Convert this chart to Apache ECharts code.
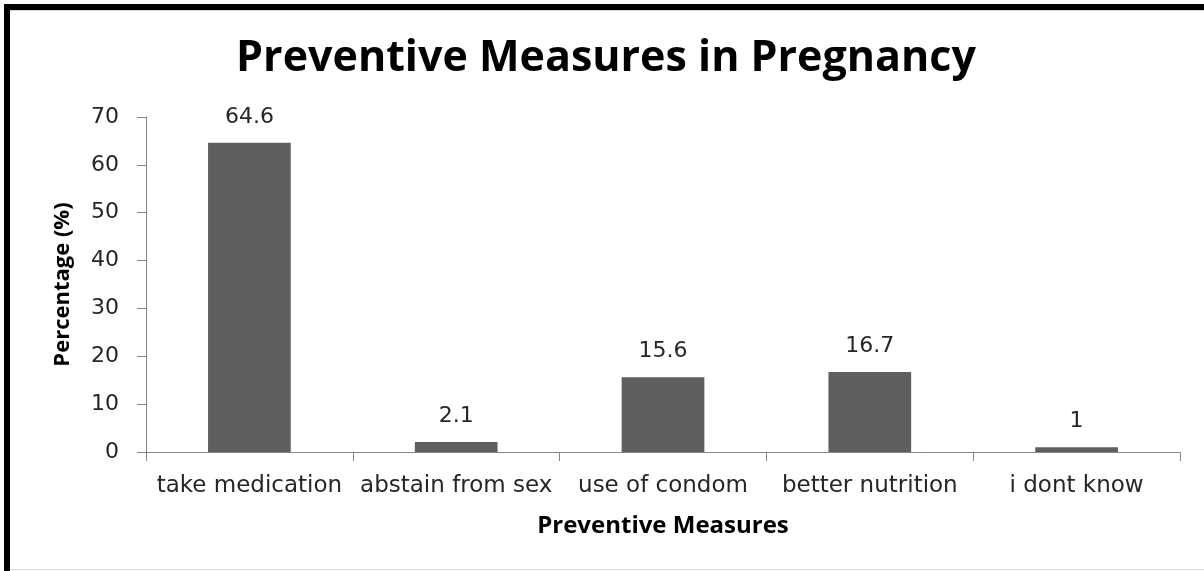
<!DOCTYPE html>
<html><head><meta charset="utf-8">
<script src="https://cdn.jsdelivr.net/npm/echarts@6/dist/echarts.min.js"></script>
<style>html,body{margin:0;padding:0;background:#fff}#c{width:1204px;height:571px}</style>
</head><body><div id="c"></div>
<script>
const categories = ['take medication', 'abstain from sex', 'use of condom', 'better nutrition', 'i dont know'];
const values = [64.6, 2.1, 15.6, 16.7, 1];
const yTicks = [0, 10, 20, 30, 40, 50, 60, 70];

const chart = echarts.init(document.getElementById('c'), null, {renderer: 'canvas'});
const FONT = 'Open Sans';
const LFONT = 'DejaVu Sans';
chart.setOption({
  animation: false,
  backgroundColor: '#fff',
  title: {
    text: 'Preventive Measures in Pregnancy',
    left: 601, top: 32, textAlign: 'center',
    textStyle: {fontFamily: FONT, fontWeight: 'bold', fontSize: 43, color: '#000'}
  },
  grid: {left: 146, right: 24, top: 117, bottom: 119, containLabel: false},
  xAxis: {
    type: 'category', data: categories,
    name: 'Preventive Measures', nameLocation: 'middle', nameGap: 62,
    nameTextStyle: {fontFamily: FONT, fontWeight: 'bold', fontSize: 24, color: '#000'},
    axisLine: {lineStyle: {color: '#868686', width: 1}},
    axisTick: {show: true, length: 9, alignWithLabel: false, lineStyle: {color: '#868686'}},
    axisLabel: {fontFamily: LFONT, fontSize: 23, color: '#262626', margin: 23, interval: 0}
  },
  yAxis: {
    type: 'value', min: yTicks[0], max: yTicks[yTicks.length - 1], interval: 10,
    name: 'Percentage (%)', nameLocation: 'middle', nameGap: 72, nameRotate: 90,
    nameTextStyle: {fontFamily: FONT, fontWeight: 'bold', fontSize: 22, color: '#000'},
    axisLine: {show: true, lineStyle: {color: '#868686', width: 1}},
    axisTick: {show: true, length: 9, lineStyle: {color: '#868686'}},
    splitLine: {show: false},
    axisLabel: {fontFamily: LFONT, fontSize: 22, color: '#262626', margin: 27}
  },
  series: [{
    type: 'bar', data: values, barWidth: '40%',
    itemStyle: {color: '#5f5f5f'},
    label: {show: true, position: 'top', distance: 15, fontFamily: LFONT, fontSize: 22, color: '#262626'}
  }],
  graphic: [
    {type: 'rect', shape: {x: 4, y: 4, width: 1200, height: 6}, style: {fill: '#000'}},
    {type: 'rect', shape: {x: 4, y: 4, width: 6, height: 567}, style: {fill: '#000'}},
    {type: 'rect', shape: {x: 10, y: 569, width: 1194, height: 1}, style: {fill: '#d9d9d9'}},
    {type: 'rect', shape: {x: 10, y: 10, width: 1194, height: 1}, style: {fill: '#d9d9d9'}}
  ]
});
</script></body></html>
